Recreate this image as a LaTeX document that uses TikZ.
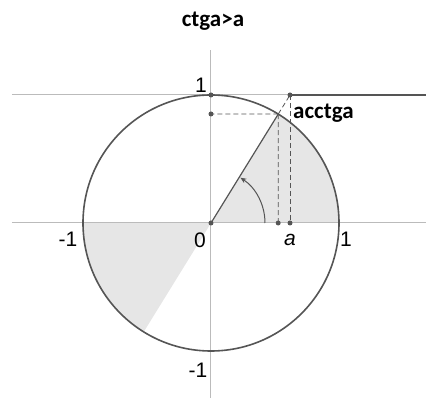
\documentclass[tikz,border=0pt]{standalone}
\usepackage{fontspec}
\setmainfont{Liberation Sans}
\newfontfamily\carlitofont{Carlito}
\usetikzlibrary{arrows.meta,calc}
\definecolor{axisgray}{HTML}{BBBBBB}
\definecolor{dark}{HTML}{555555}
\definecolor{sectorgray}{HTML}{E6E6E6}
\begin{document}
\begin{tikzpicture}[x=1pt,y=1pt,
  axisline/.style={axisgray,line width=1pt},
  circ/.style={dark,line width=1.6pt},
  dashline/.style={dark,dashed,dash pattern=on 5pt off 3pt,line width=0.8pt},
  dot/.style={circle,fill=dark,inner sep=0pt,minimum size=5pt},
  num/.style={font=\fontsize{21}{21}\selectfont,text=black,inner sep=0pt},
  lbl/.style={font=\carlitofont\bfseries\fontsize{23}{23}\selectfont,text=black,inner sep=0pt}]
\useasboundingbox (-211,-175) rectangle (215,223);
% shaded sectors
\fill[sectorgray] (0,0) -- (0:128) arc[start angle=0,end angle=58.3,radius=128] -- cycle;
\fill[sectorgray] (0,0) -- (180:128) arc[start angle=180,end angle=238.3,radius=128] -- cycle;
% axes
\coordinate (xl) at (-199,0);
\coordinate (xr) at (215,0);
\coordinate (yt) at (0,173);
\coordinate (yb) at (0,-175);
\coordinate (ll) at (-199,128);
\coordinate (lr) at (215,128);
\draw[axisline] (xl) -- (xr);
\draw[axisline] (yb) -- (yt);
\draw[axisline] (ll) -- (lr);
% circle
\draw[circ] (0,0) circle[radius=128];
% points
\node[dot] (O) at (0,0) {};
\node[dot] (Y1) at (0,128) {};
\node[dot] (A1) at (79,128) {};
\coordinate (P) at (58.3:128);
\node[dot] (Py) at (0,109) {};
\node[dot] (Px) at (67.2,0) {};
\node[dot] (Ax) at (79,0) {};
% thick ray on y=1
\draw[dark,line width=2pt] (A1.center) -- (lr);
% ray and dashed lines
\draw[dark,line width=1.2pt] (O.center) -- (P);
\draw[dashline] (P) -- (A1.center);
\draw[dashline] (P) -- (Py.center);
\draw[dashline] (P) -- (Px.center);
\draw[dashline] (A1.center) -- (Ax.center);
% angle arc
\draw[dark,line width=1pt,-{Stealth[length=6pt,width=5pt]}] (54,0) arc[start angle=0,end angle=57,radius=54];
% labels
\node[num] (l1t) at (-10,138) {1};
\node[num] (lm1l) at (-143,-16) {-1};
\node[num] (l0) at (-11,-17) {0};
\node[num,font=\fontsize{21}{21}\selectfont\itshape] (la) at (79,-17) {a};
\node[num] (l1r) at (135,-16) {1};
\node[num] (lm1b) at (-13,-147) {-1};
\node[lbl,anchor=west] (acc) at (82,110) {acctga};
\node[lbl] (title) at (2,202) {ctga>a};
\end{tikzpicture}
\end{document}
